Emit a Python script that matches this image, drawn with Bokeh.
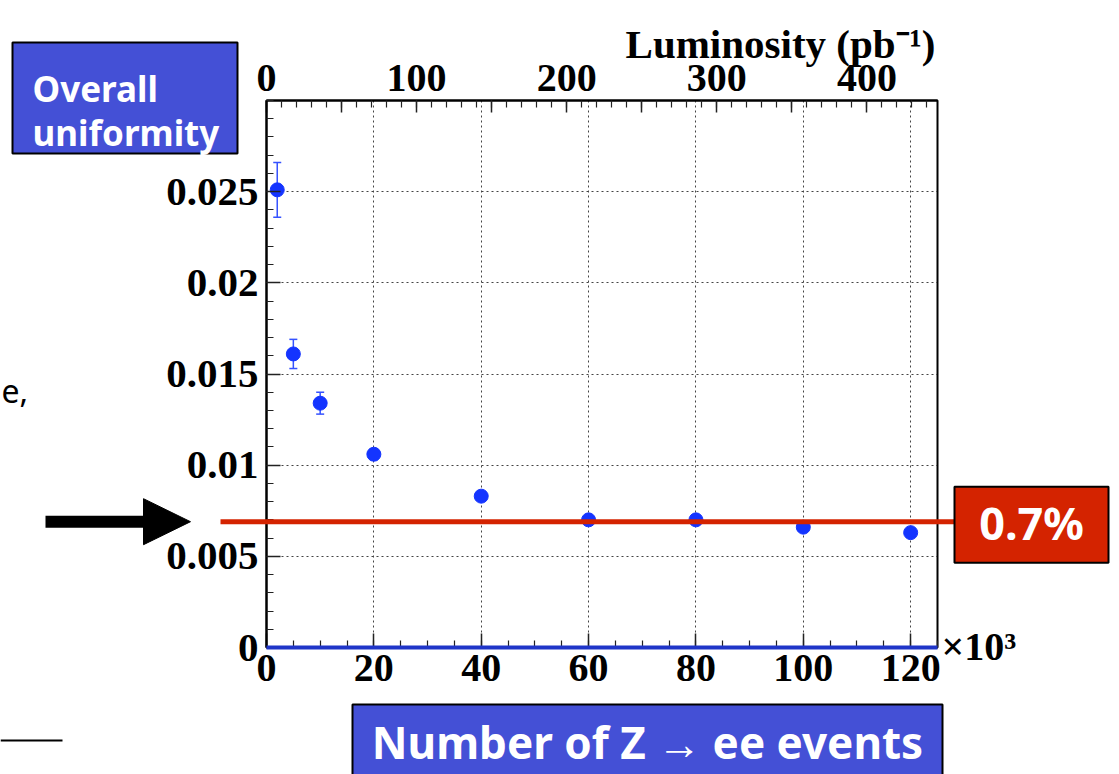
from bokeh.plotting import figure
from bokeh.models import (Range1d, LinearAxis, FixedTicker, ColumnDataSource, Whisker, TeeHead,
                          BoxAnnotation, PolyAnnotation, Label, Grid)
from bokeh.embed import file_html
from bokeh.resources import INLINE

# ---------------- data ----------------
n_events_k = [2, 5, 10, 20, 40, 60, 80, 100, 120]
uniformity = [0.0251, 0.0161, 0.0134, 0.0106, 0.0083, 0.0070, 0.0070, 0.0066, 0.0063]
uniformity_err = [0.0015, 0.0008, 0.0006, 0.0003, 0.0002, 0.00015, 0.00015, 0.00015, 0.00015]
target_level = 0.0069
target_text = "0.7%"

x_ticks = [0, 20, 40, 60, 80, 100, 120]
x_tick_labels = ["0", "20", "40", "60", "80", "100", "120"]
y_ticks = [0, 0.005, 0.01, 0.015, 0.02, 0.025]
y_tick_labels = ["0", "0.005", "0.01", "0.015", "0.02", "0.025"]
lumi_ticks = [0, 100, 200, 300, 400]
lumi_tick_labels = ["0", "100", "200", "300", "400"]
x_max, y_max, lumi_max = 125, 0.03, 447

# ---------------- geometry (pixels) ----------------
# The frame fills the whole canvas; the data box sits at these pixel bounds.
W, H = 1119, 774
FL, FR, FT, FB = 266, 937, 100, 647


def dx(px):
    return (px - FL) / (FR - FL) * x_max


def dy(py):
    return (FB - py) / (FB - FT) * y_max


def lx(px):
    return (px - FL) / (FR - FL) * lumi_max


def hpx(n):  # vertical size of n pixels in data units
    return n / (FB - FT) * y_max


SERIF = "Liberation Serif"
SANS = "Noto Sans"
BLUE = "#1434ff"
SLIDE_BLUE = "#4450d6"
RED = "#d42300"

p = figure(width=W, height=H, output_backend="svg", toolbar_location=None,
           x_range=Range1d(dx(0), dx(W)), y_range=Range1d(dy(H), dy(0)),
           x_axis_location=None, y_axis_location=None, min_border=0)
p.center = []  # drop default grids; custom bounded grids are added below
p.background_fill_color = "white"
p.border_fill_color = "white"
p.outline_line_color = None


def style_axis(ax, size="40px"):
    ax.axis_line_color = "black"
    ax.axis_line_width = 2
    ax.major_tick_in = 14
    ax.major_tick_out = 0
    ax.minor_tick_in = 7
    ax.minor_tick_out = 0
    ax.major_tick_line_color = "#222"
    ax.minor_tick_line_color = "#222"
    ax.major_tick_line_width = 1.5
    ax.minor_tick_line_width = 1.2
    ax.major_label_text_font = SERIF
    ax.major_label_text_font_style = "bold"
    ax.major_label_text_font_size = size
    ax.major_label_text_color = "black"


x_ticker = FixedTicker(ticks=x_ticks, minor_ticks=list(range(0, x_max + 1, 5)))
y_ticker = FixedTicker(ticks=y_ticks, minor_ticks=[i * 0.001 for i in range(31)])

# grid (bounded to the data box)
p.add_layout(Grid(dimension=0, ticker=x_ticker, cross_bounds=(0, y_max), grid_line_color="#444",
                  grid_line_dash="2 3", grid_line_width=1), "center")
p.add_layout(Grid(dimension=1, ticker=y_ticker, cross_bounds=(0, x_max), grid_line_color="#444",
                  grid_line_dash="2 3", grid_line_width=1), "center")

# data box outline
p.add_layout(BoxAnnotation(left=0, right=x_max, bottom=0, top=y_max, fill_alpha=0,
                           line_color="black", line_width=2, line_alpha=1, level="underlay"))

# bottom axis
xa = LinearAxis(ticker=x_ticker, fixed_location=0, bounds=(0, x_max),
                major_label_overrides=dict(zip(x_ticks, x_tick_labels)))
style_axis(xa)
xa.major_label_standoff = 7
p.add_layout(xa, "below")

# left axis
ya = LinearAxis(ticker=y_ticker, fixed_location=0, bounds=(0, y_max),
                major_label_overrides=dict(zip(y_ticks, y_tick_labels)))
style_axis(ya, "41px")
ya.major_label_standoff = 8
p.add_layout(ya, "left")

# top luminosity axis
p.extra_x_ranges = {"lumi": Range1d(lx(0), lx(W))}
lumi_major = list(range(0, lumi_max, 50))
lumi_over = {t: "" for t in lumi_major}
lumi_over.update(dict(zip(lumi_ticks, lumi_tick_labels)))
ta = LinearAxis(x_range_name="lumi", fixed_location=y_max, bounds=(0, lumi_max),
                ticker=FixedTicker(ticks=lumi_major, minor_ticks=list(range(0, lumi_max, 10))),
                major_label_overrides=lumi_over)
style_axis(ta)
ta.major_tick_in = 12
ta.minor_tick_in = 7
ta.major_label_standoff = 10
p.add_layout(ta, "above")

# blue baseline at zero
p.add_layout(BoxAnnotation(left=0, right=x_max, bottom=-hpx(2), top=hpx(2),
                           fill_color="#1f35c8", fill_alpha=1, line_alpha=0))

# data
src = ColumnDataSource(dict(
    x=n_events_k, y=uniformity,
    upper=[v + e for v, e in zip(uniformity, uniformity_err)],
    lower=[v - e for v, e in zip(uniformity, uniformity_err)],
))
p.add_layout(Whisker(base="x", upper="upper", lower="lower", source=src,
                     line_color="#3552ff", line_width=1.5,
                     upper_head=TeeHead(size=8, line_color="#3552ff", line_width=1.5),
                     lower_head=TeeHead(size=8, line_color="#3552ff", line_width=1.5)))
p.scatter("x", "y", source=src, size=14, color=BLUE)

# red target line and label box
p.add_layout(BoxAnnotation(left=dx(220), right=dx(954),
                           bottom=target_level - hpx(2.5), top=target_level + hpx(2.5),
                           fill_color=RED, fill_alpha=1, line_alpha=0))
p.add_layout(BoxAnnotation(left=dx(954), right=dx(1108), top=target_level + hpx(35),
                           bottom=target_level - hpx(41),
                           fill_color=RED, fill_alpha=1, line_color="black", line_width=2,
                           line_alpha=1))
p.add_layout(Label(x=dx(1031), y=target_level - hpx(1), text=target_text,
                   text_font=SANS, text_font_style="bold", text_font_size="45px",
                   text_color="white", text_align="center", text_baseline="middle"))

# black arrow pointing at the level
p.add_layout(BoxAnnotation(left=dx(45), right=dx(150), bottom=target_level - hpx(6),
                           top=target_level + hpx(6), fill_color="black", fill_alpha=1,
                           line_alpha=0))
p.add_layout(PolyAnnotation(xs=[dx(143), dx(190), dx(143)],
                            ys=[target_level + hpx(23), target_level, target_level - hpx(23)],
                            fill_color="black", fill_alpha=1, line_color="black", line_alpha=1))

# slide boxes
p.add_layout(BoxAnnotation(left=dx(12), right=dx(237), top=dy(42), bottom=dy(153),
                           fill_color=SLIDE_BLUE, fill_alpha=1, line_color="black",
                           line_width=2, line_alpha=1))
p.add_layout(Label(x=dx(32), y=dy(88), text="Overall", text_font=SANS, text_font_style="bold",
                   text_font_size="35px", text_color="white", text_baseline="alphabetic"))
p.add_layout(Label(x=dx(32), y=dy(132), text="uniformity", text_font=SANS,
                   text_font_style="bold", text_font_size="35px", text_color="white",
                   text_baseline="alphabetic"))

p.add_layout(BoxAnnotation(left=dx(352), right=dx(942), top=dy(704), bottom=dy(790),
                           fill_color=SLIDE_BLUE, fill_alpha=1, line_color="black",
                           line_width=2, line_alpha=1))
p.add_layout(Label(x=dx(647), y=dy(741), text="Number of Z \u2192 ee events", text_font=SANS,
                   text_font_style="bold", text_font_size="44px", text_color="white",
                   text_align="center", text_baseline="middle"))

# axis titles
p.add_layout(Label(x=x_max, y=dy(43), x_offset=-2, text="Luminosity (pb\u207b\u00b9)",
                   text_font=SERIF, text_font_style="bold", text_font_size="41px",
                   text_color="black", text_align="right", text_baseline="alphabetic"))
p.add_layout(Label(x=x_max, y=0, x_offset=4, y_offset=1, text="\u00d710\u00b3", text_font=SERIF,
                   text_font_style="bold", text_font_size="40px", text_color="black",
                   text_align="left", text_baseline="alphabetic"))

# slide fragments
p.add_layout(Label(x=dx(1), y=dy(390), text="e,", text_font=SANS, text_font_size="32px",
                   text_color="black", text_baseline="alphabetic"))
p.add_layout(BoxAnnotation(left=dx(0), right=dx(62), bottom=dy(741), top=dy(739),
                           fill_color="black", fill_alpha=1, line_alpha=0))

open("out.html", "w").write(file_html(p, INLINE))
